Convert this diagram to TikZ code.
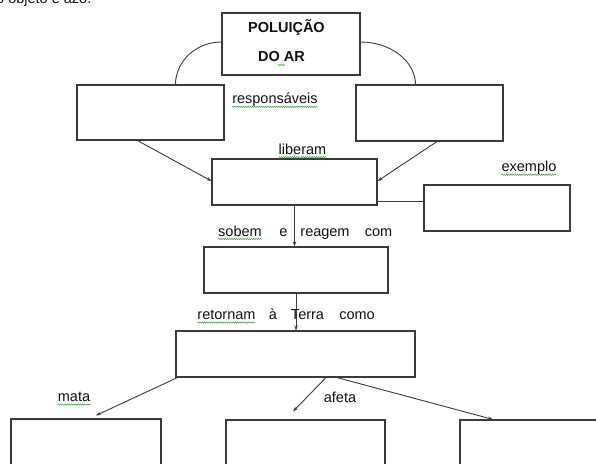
\documentclass[tikz,border=0pt]{standalone}
\usepackage{fontspec}
\setmainfont{Liberation Sans}
\usetikzlibrary{positioning, arrows.meta, calc, decorations.pathmorphing}
\definecolor{mapline}{HTML}{3A3A3A}
\definecolor{maptext}{HTML}{111111}
\definecolor{spellgreen}{HTML}{3FA33F}

\begin{document}
\begin{tikzpicture}[x=1pt, y=-1pt,
    box/.style={draw=mapline, line width=1.1pt, inner sep=0pt},
    lbl/.style={color=maptext, inner sep=0pt, font=\fontsize{14.5}{17}\selectfont},
    link/.style={draw=mapline, line width=0.9pt, -{Stealth[length=5pt,width=3.5pt]}},
    spell/.style={draw=spellgreen, line width=0.5pt, decorate,
                  decoration={snake, amplitude=0.7pt, segment length=2.2pt}}]
  \useasboundingbox (0,0) rectangle (596,463);
  \clip (0,0) rectangle (596,463);

  % cut-off line of the task text
  \node[lbl, anchor=base west] (enunciado) at (-4,3) {o objeto é azo.};

  % title box
  \node[box, minimum width=138pt, minimum height=62pt] (poluicao) at (291,44) {};
  \node[lbl, font=\fontsize{14.5}{17}\selectfont\bfseries] (titulo1) at (286.5,28) {POLUIÇÃO};
  \node[lbl, font=\fontsize{14.5}{17}\selectfont\bfseries] (titulo2) at (281.5,57) {DO AR};
  \draw[spell] ($(titulo2.base west)+(20,3)$) -- ($(titulo2.base west)+(27,3)$);

  % empty boxes
  \node[box, minimum width=147pt, minimum height=55pt] (fonteA) at (150.5,112.5) {};
  \node[box, minimum width=147pt, minimum height=56pt] (fonteB) at (429.5,113) {};
  \node[box, minimum width=165pt, minimum height=46pt] (gases) at (294.5,182) {};
  \node[box, minimum width=146pt, minimum height=46pt] (exemplo) at (497,208) {};
  \node[box, minimum width=184pt, minimum height=46pt] (reacao) at (296,270) {};
  \node[box, minimum width=239pt, minimum height=46pt] (chuva) at (295.5,354) {};
  \node[box, minimum width=150pt, minimum height=71pt] (cxA) at (86,454.5) {};
  \node[box, minimum width=159pt, minimum height=70pt] (cxB) at (305.5,455) {};
  \node[box, minimum width=160pt, minimum height=70pt] (cxC) at (540,455) {};

  % arcs from the title
  \draw[mapline, line width=0.9pt] ($(poluicao.west)+(0,-2)$)
        arc[start angle=90, end angle=180, x radius=46pt, y radius=43pt];
  \draw[mapline, line width=0.9pt] ($(poluicao.east)+(0,-2)$)
        arc[start angle=90, end angle=0, x radius=55pt, y radius=43pt];

  % connectors
  \draw[link] ($(fonteA.south)+(-13,0)$) -- ($(gases.west)+(0,-1)$);
  \draw[link] ($(fonteB.south)+(7.5,0)$) -- ($(gases.east)+(0,-1)$);
  \draw[mapline, line width=0.9pt] ($(gases.south east)+(0,-4)$) coordinate (g1)
        -- (g1 -| exemplo.west);
  \draw[link] (gases.south) -- (gases.south |- reacao.north);
  \draw[link] (reacao.south) -- (reacao.south |- chuva.north);
  \draw[link] ($(chuva.south west)+(2,0)$) -- ($(cxA.north)+(10,-3)$);
  \draw[link] ($(chuva.south)+(30.5,0)$) -- ($(cxB.north)+(-12.5,-8)$);
  \draw[link] ($(chuva.south)+(41.5,0)$) -- ($(cxC.north)+(-47,0)$);

  % linking words
  \node[lbl] (resp) at (275,100) {responsáveis};
  \draw[spell] ($(resp.base west)+(0,3)$) -- ($(resp.base east)+(0,3)$);
  \node[lbl] (liberam) at (302.5,149) {liberam};
  \draw[spell] ($(liberam.base west)+(0,3)$) -- ($(liberam.base east)+(0,3)$);
  \node[lbl] (exlbl) at (529,168) {exemplo};
  \draw[spell] ($(exlbl.base west)+(0,3)$) -- ($(exlbl.base east)+(0,3)$);
  \node[lbl, anchor=base] (sobem) at (240,236) {sobem};
  \draw[spell] ($(sobem.base west)+(0,3)$) -- ($(sobem.base east)+(0,3)$);
  \node[lbl, anchor=base] (e) at (283.5,236) {e};
  \node[lbl, anchor=base] (reagem) at (325,236) {reagem};
  \node[lbl, anchor=base] (com) at (378.5,236) {com};
  \node[lbl, anchor=base] (retornam) at (226.5,319.5) {retornam};
  \draw[spell] ($(retornam.base west)+(0,3)$) -- ($(retornam.base east)+(0,3)$);
  \node[lbl, anchor=base] (a) at (273,319.5) {à};
  \node[lbl, anchor=base] (terra) at (307.5,319.5) {Terra};
  \node[lbl, anchor=base] (como) at (357,319.5) {como};
  \node[lbl] (mata) at (74,397) {mata};
  \draw[spell] ($(mata.base west)+(0,3)$) -- ($(mata.base east)+(0,3)$);
  \node[lbl] (afeta) at (340,397) {afeta};
\end{tikzpicture}
\end{document}
